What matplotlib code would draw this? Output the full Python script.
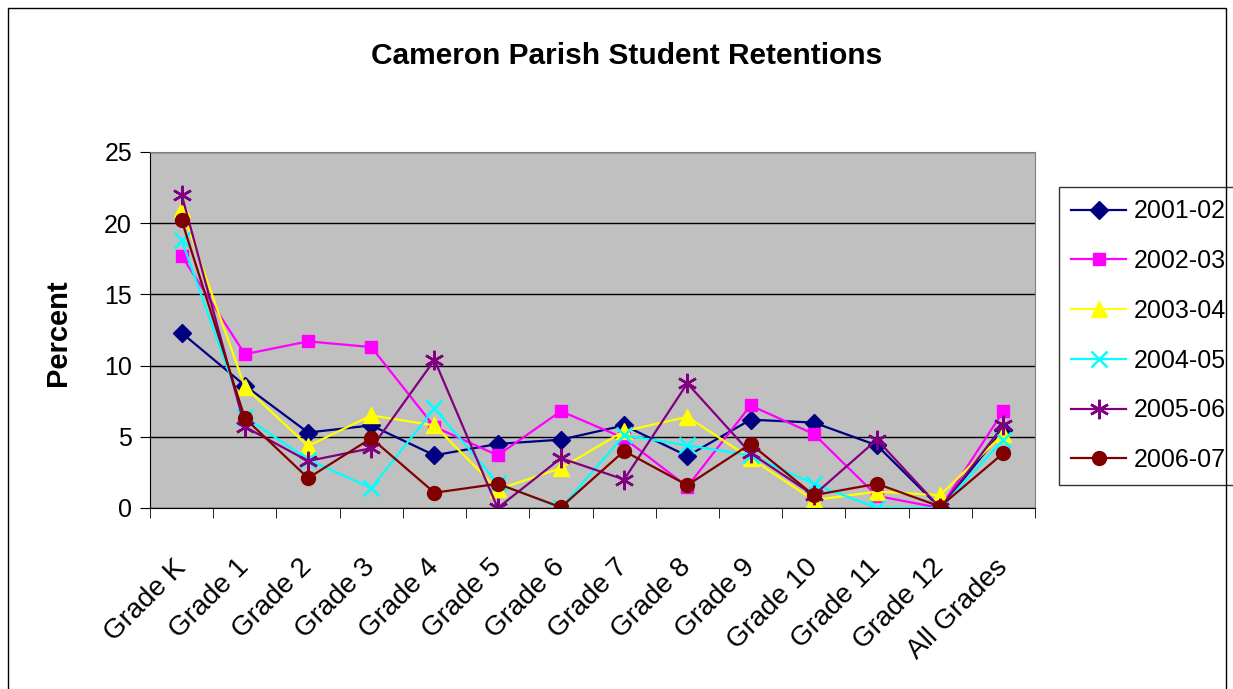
import matplotlib
matplotlib.use("Agg")
import matplotlib.pyplot as plt
from matplotlib.patches import Rectangle
import matplotlib.transforms as mtransforms
import numpy as np

plt.rcParams['font.family'] = ['Liberation Sans', 'DejaVu Sans']

grades = ["Grade K", "Grade 1", "Grade 2", "Grade 3", "Grade 4", "Grade 5", "Grade 6",
          "Grade 7", "Grade 8", "Grade 9", "Grade 10", "Grade 11", "Grade 12", "All Grades"]

y2001_02 = [12.3, 8.6, 5.3, 5.8, 3.7, 4.5, 4.8, 5.8, 3.65, 6.2, 6.0, 4.4, 0.0, 5.5]
y2002_03 = [17.7, 10.8, 11.7, 11.3, 5.7, 3.7, 6.8, 4.9, 1.5, 7.2, 5.2, 0.85, 0.0, 6.8]
y2003_04 = [21.0, 8.5, 4.35, 6.5, 5.8, 1.3, 2.8, 5.4, 6.4, 3.5, 0.55, 1.15, 0.9, 5.2]
y2004_05 = [18.8, 6.4, 3.4, 1.4, 7.0, 1.75, 0.0, 5.1, 4.4, 3.7, 1.7, 0.0, 0.0, 4.8]
y2005_06 = [22.0, 5.7, 3.3, 4.2, 10.4, 0.0, 3.5, 2.0, 8.75, 3.85, 0.9, 4.8, 0.0, 5.8]
y2006_07 = [20.2, 6.3, 2.1, 4.9, 1.07, 1.7, 0.05, 4.0, 1.6, 4.5, 0.9, 1.7, 0.1, 3.85]

series = [
    ("2001-02", y2001_02, "#000080", "D", 9),
    ("2002-03", y2002_03, "#FF00FF", "s", 9),
    ("2003-04", y2003_04, "#FFFF00", "^", 11),
    ("2004-05", y2004_05, "#00FFFF", "x", 11),
    ("2005-06", y2005_06, "#800080", (6, 2, 0), 14),
    ("2006-07", y2006_07, "#800000", "o", 10),
]

fig = plt.figure(figsize=(12.33, 6.89), dpi=100)
fig.patches.append(Rectangle((0.0065, -0.01), 0.988, 0.998, transform=fig.transFigure,
                             fill=False, edgecolor="black", linewidth=1.0))

ax = fig.add_axes([0.1217, 0.2627, 0.7177, 0.5167])
ax.set_facecolor("#C0C0C0")

x = np.arange(len(grades))
for name, vals, color, marker, ms in series:
    ax.plot(x, vals, color=color, linewidth=1.6, marker=marker, markersize=ms,
            markeredgewidth=1.8 if marker in ("x", (6, 2, 0)) else 1.0,
            markeredgecolor=color, markerfacecolor=color, label=name)

ax.set_xlim(-0.5, len(grades) - 0.5)
ax.set_ylim(0, 25)
ax.set_yticks([0, 5, 10, 15, 20, 25])
ax.yaxis.grid(True, color="black", linewidth=1.0)
ax.set_axisbelow(True)

ax.set_xticks(x)
ax.set_xticklabels(grades, rotation=45, ha="right", va="center",
                   rotation_mode="anchor", fontsize=20)
# shift the rotated labels a little to the left, like the original
shift = mtransforms.ScaledTranslation(-7 / 100, 0, fig.dpi_scale_trans)
for lbl in ax.get_xticklabels():
    lbl.set_transform(lbl.get_transform() + shift)
ax.set_xticks(np.arange(-0.5, len(grades), 1.0), minor=True)
ax.tick_params(axis="x", which="major", length=0, pad=40)
ax.tick_params(axis="x", which="minor", length=7, direction="out", color="black")
ax.tick_params(axis="y", labelsize=18, length=7, direction="out", pad=6)

for side in ("top", "right"):
    ax.spines[side].set_color("#808080")
ax.spines["left"].set_color("black")
ax.spines["bottom"].set_color("black")

fig.text(58 / 1233, 1 - 333 / 689, "Percent", fontsize=21, fontweight="bold",
         rotation=90, ha="center", va="center")
fig.text(0.508, 0.919, "Cameron Parish Student Retentions", fontsize=21.5,
         fontweight="bold", ha="center", va="center")

leg = ax.legend(loc="upper left", bbox_to_anchor=(1.027, 0.902), borderaxespad=0,
                fontsize=18, frameon=True, fancybox=False, edgecolor="black",
                handlelength=2.2, labelspacing=1.03, borderpad=0.5,
                handletextpad=0.28)
leg.get_frame().set_linewidth(1.0)

fig.savefig("out.png", dpi=100)
